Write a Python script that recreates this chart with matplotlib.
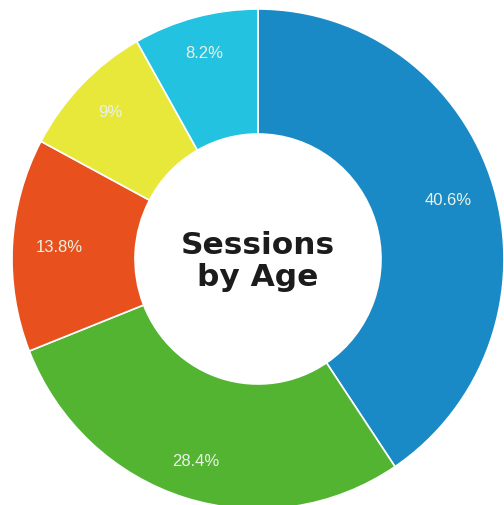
import matplotlib
matplotlib.use("Agg")
import numpy as np
import matplotlib.pyplot as plt

# session share by age group, clockwise from 12 o'clock
labels = ["40.6%", "28.4%", "13.8%", "9%", "8.2%"]
shares = [40.6, 28.4, 13.8, 9.0, 8.2]
colors = ["#1a8ac6", "#52b431", "#e8501e", "#e8e83a", "#22c2e0"]

# how far out each percentage label sits (fraction of outer radius)
label_r = [0.81, 0.85, 0.81, 0.84, 0.85]

fig = plt.figure(figsize=(5.04, 5.05), dpi=100)
ax = fig.add_axes([0, 0, 1, 1])

wedges, _ = ax.pie(
    shares,
    colors=colors,
    startangle=90,
    counterclock=False,
    radius=1.0,
    wedgeprops=dict(width=0.5, edgecolor="white", linewidth=1.2),
)

for w, lab, r in zip(wedges, labels, label_r):
    mid = np.deg2rad((w.theta1 + w.theta2) / 2)
    ax.text(r * np.cos(mid), r * np.sin(mid), lab, ha="center", va="center",
            color="#eaf2e6", fontsize=12, family="Liberation Sans")

ax.text(0, -0.01, "Sessions\nby Age", ha="center", va="center",
        fontsize=22.5, fontweight="bold", family="DejaVu Sans",
        color="#1c1c1c", linespacing=1.12)

# ring centre is at pixel (258, 259); picture is a touch taller than wide
ax.set_xlim(-258 / 246, 246 / 246)
ax.set_ylim(-246 / 250, 259 / 250)
ax.set_aspect("auto")
ax.axis("off")

fig.savefig("out.png", dpi=100)
